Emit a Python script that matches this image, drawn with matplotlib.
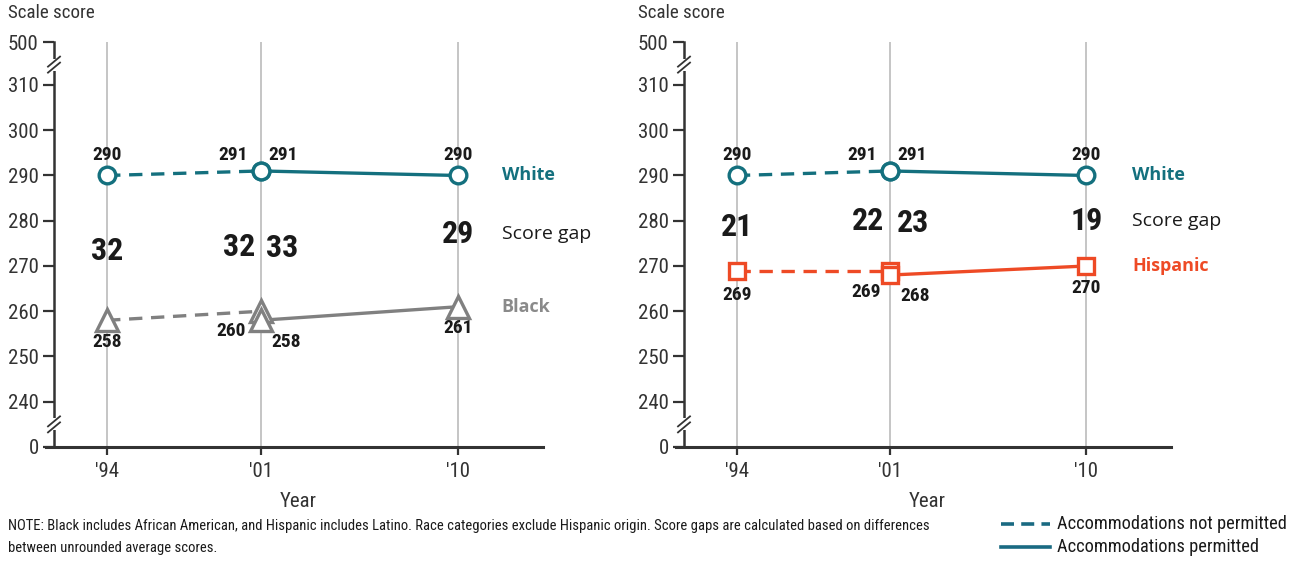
import numpy as np
import matplotlib
matplotlib.use("Agg")
import matplotlib.pyplot as plt
import logging
logging.getLogger('matplotlib.font_manager').setLevel(logging.ERROR)

# ---------------- data ----------------
years = [1994, 2001, 2010]
year_labels = ["'94", "'01", "'10"]
ytick_values = [0, 240, 250, 260, 270, 280, 290, 300, 310, 500]

white_np_years = [1994, 2001]
white_np = [290, 291]
white_p_years = [2001, 2010]
white_p = [291, 290]

black_np_years = [1994, 2001]
black_np = [258, 260]
black_p_years = [2001, 2010]
black_p = [258, 261]

hisp_np_years = [1994, 2001]
hisp_np = [269, 269]
hisp_p_years = [2001, 2010]
hisp_p = [268, 270]

gaps_black = [32, 32, 33, 29]
gaps_hisp = [21, 22, 23, 19]

# ---------------- style ----------------
NARROW = ['Roboto Condensed', 'Roboto', 'DejaVu Sans']
OPEN = ['Open Sans', 'DejaVu Sans']
TEAL = '#14707e'
GRAY = '#808080'
ORANGE = '#ee4a25'
DARK = '#333333'

# broken axis mapping
XP = [-1000, 0, 240, 310, 500, 1500]
FP = [220.0, 230.0, 240.0, 310.0, 319.5, 329.5]


def fwd(y):
    return np.interp(y, XP, FP)


def inv(y):
    return np.interp(y, FP, XP)


fig = plt.figure(figsize=(12.9, 5.61), dpi=100)
W, H = 1290, 561


def make_axes(x0, x1):
    ax = fig.add_axes([x0 / W, (H - 447) / H, (x1 - x0) / W, (447 - 42) / H])
    ax.set_yscale('function', functions=(fwd, inv))
    ax.set_ylim(0, 500)
    ax.set_xlim(1991.58, 2013.87)
    ax.set_yticks(ytick_values)
    ax.set_yticklabels([str(v) for v in ytick_values], family=NARROW, fontsize=15, color=DARK)
    ax.set_xticks(years)
    ax.set_xticklabels(year_labels, family=NARROW, fontsize=15, color=DARK)
    ax.tick_params(axis='y', length=8, width=1.6, color=DARK, pad=3)
    ax.tick_params(axis='x', length=6, width=1.6, color=DARK, pad=5)
    for s in ['top', 'right']:
        ax.spines[s].set_visible(False)
    ax.spines['left'].set_linewidth(1.8)
    ax.spines['left'].set_color(DARK)
    ax.spines['bottom'].set_linewidth(2.2)
    ax.spines['bottom'].set_color(DARK)
    ax.spines['bottom'].set_bounds(1991.2, 2013.87)
    ax.grid(axis='x', color='#c0c0c0', linewidth=1.3)
    ax.set_axisbelow(True)
    ax.set_xlabel('Year', family=NARROW, fontsize=15, color=DARK)
    ax.xaxis.set_label_coords(0.5, -0.112)
    axw, axh = x1 - x0, 447 - 42
    # axis breaks
    for yc in [400, 120]:
        yt = (fwd(yc) - 230.0) / (319.5 - 230.0)
        ax.add_patch(plt.Rectangle((-4 / axw, yt - 6 / axh), 8 / axw, 12 / axh,
                                   transform=ax.transAxes, facecolor='white',
                                   edgecolor='none', clip_on=False, zorder=5))
        for dy in (-3, 3):
            ax.plot([-6 / axw, 6 / axw], [yt + (dy - 5) / axh, yt + (dy + 5) / axh],
                    transform=ax.transAxes, color=DARK, lw=1.3, clip_on=False, zorder=6)
    ax.text(-46 / axw, 1 + 29 / axh, 'Scale score', transform=ax.transAxes,
            family=NARROW, fontsize=13.7, color=DARK, ha='left', va='center')
    return ax


def series(ax, xs_np, ys_np, xs_p, ys_p, color, marker, ms):
    ax.plot(xs_np, ys_np, color=color, lw=2.4, ls=(0, (4, 2.6)), zorder=3)
    ax.plot(xs_p, ys_p, color=color, lw=2.4, ls='-', zorder=3)
    ax.plot(xs_np + xs_p, ys_np + ys_p, ls='none', marker=marker, ms=ms,
            mfc='white', mec=color, mew=2.4, zorder=4)


def lab(ax, x, y, txt, dx, dy, size=14):
    ax.annotate(txt, (x, y), xytext=(dx, dy), textcoords='offset pixels',
                ha='center', va='center', family=NARROW, fontsize=size,
                fontweight='bold', color='#1a1a1a', zorder=6)


GAP = 23

# ---------------- left panel ----------------
axL = make_axes(54, 543)
series(axL, white_np_years, white_np, white_p_years, white_p, TEAL, 'o', 12)
series(axL, black_np_years, black_np, black_p_years, black_p, GRAY, '^', 16)

lab(axL, 1994, white_np[0], str(white_np[0]), 0, 20)
lab(axL, 2001, white_np[1], str(white_np[1]), -28, 16)
lab(axL, 2001, white_p[0], str(white_p[0]), 22, 16)
lab(axL, 2010, white_p[1], str(white_p[1]), 0, 20)
lab(axL, 1994, black_np[0], str(black_np[0]), 0, -22)
lab(axL, 2001, black_np[1], str(black_np[1]), -30, -20)
lab(axL, 2001, black_p[0], str(black_p[0]), 25, -22)
lab(axL, 2010, black_p[1], str(black_p[1]), 0, -21)

lab(axL, 1994, 273.4, str(gaps_black[0]), 0, 0, GAP)
lab(axL, 2001, 274.1, str(gaps_black[1]), -22, 0, GAP)
lab(axL, 2001, 273.9, str(gaps_black[2]), 21, 0, GAP)
lab(axL, 2010, 277.0, str(gaps_black[3]), 0, 0, GAP)

axL.text(2011.98, 290, 'White', family=OPEN, fontsize=13, fontweight='bold', color=TEAL, va='center')
axL.text(2011.98, 277, 'Score gap', family=OPEN, fontsize=14, color='#1a1a1a', va='center')
axL.text(2011.98, 261, 'Black', family=OPEN, fontsize=13, fontweight='bold', color='#8a8a8a', va='center')

# ---------------- right panel ----------------
axR = make_axes(684, 1171)
series(axR, white_np_years, white_np, white_p_years, white_p, TEAL, 'o', 12)
series(axR, hisp_np_years, hisp_np, hisp_p_years, hisp_p, ORANGE, 's', 11.5)

lab(axR, 1994, white_np[0], str(white_np[0]), 0, 20)
lab(axR, 2001, white_np[1], str(white_np[1]), -28, 16)
lab(axR, 2001, white_p[0], str(white_p[0]), 22, 16)
lab(axR, 2010, white_p[1], str(white_p[1]), 0, 20)
lab(axR, 1994, hisp_np[0], str(hisp_np[0]), 0, -24)
lab(axR, 2001, hisp_np[1], str(hisp_np[1]), -24, -21)
lab(axR, 2001, hisp_p[0], str(hisp_p[0]), 25, -21)
lab(axR, 2010, hisp_p[1], str(hisp_p[1]), 0, -22)

lab(axR, 1994, 278.7, str(gaps_hisp[0]), 0, 0, GAP)
lab(axR, 2001, 280.0, str(gaps_hisp[1]), -22, 0, GAP)
lab(axR, 2001, 279.6, str(gaps_hisp[2]), 23, 0, GAP)
lab(axR, 2010, 280.0, str(gaps_hisp[3]), 0, 0, GAP)

axR.text(2012.1, 290, 'White', family=OPEN, fontsize=13, fontweight='bold', color=TEAL, va='center')
axR.text(2012.1, 280, 'Score gap', family=OPEN, fontsize=14, color='#1a1a1a', va='center')
axR.text(2012.1, 270, 'Hispanic', family=OPEN, fontsize=13, fontweight='bold', color=ORANGE, va='center')

# ---------------- note & legend ----------------
fig.text(8 / W, 1 - 526 / H,
         'NOTE: Black includes African American, and Hispanic includes Latino. Race categories exclude '
         'Hispanic origin. Score gaps are calculated based on differences',
         family=NARROW, fontsize=10.5, color='#1a1a1a', ha='left', va='center')
fig.text(8 / W, 1 - 548 / H, 'between unrounded average scores.',
         family=NARROW, fontsize=10.5, color='#1a1a1a', ha='left', va='center')

LEG = '#1a6a82'
fig.add_artist(plt.Line2D([1001 / W, 1050 / W], [1 - 524 / H, 1 - 524 / H], color=LEG,
                          lw=2.6, ls=(0, (3.6, 2.0))))
fig.add_artist(plt.Line2D([1001 / W, 1050 / W], [1 - 547 / H, 1 - 547 / H], color=LEG, lw=2.6))
fig.text(1057 / W, 1 - 524 / H, 'Accommodations not permitted', family=NARROW, fontsize=13.2,
         color='#1a1a1a', ha='left', va='center')
fig.text(1057 / W, 1 - 547 / H, 'Accommodations permitted', family=NARROW, fontsize=13.2,
         color='#1a1a1a', ha='left', va='center')

fig.savefig('out.png', dpi=100, facecolor='white')
